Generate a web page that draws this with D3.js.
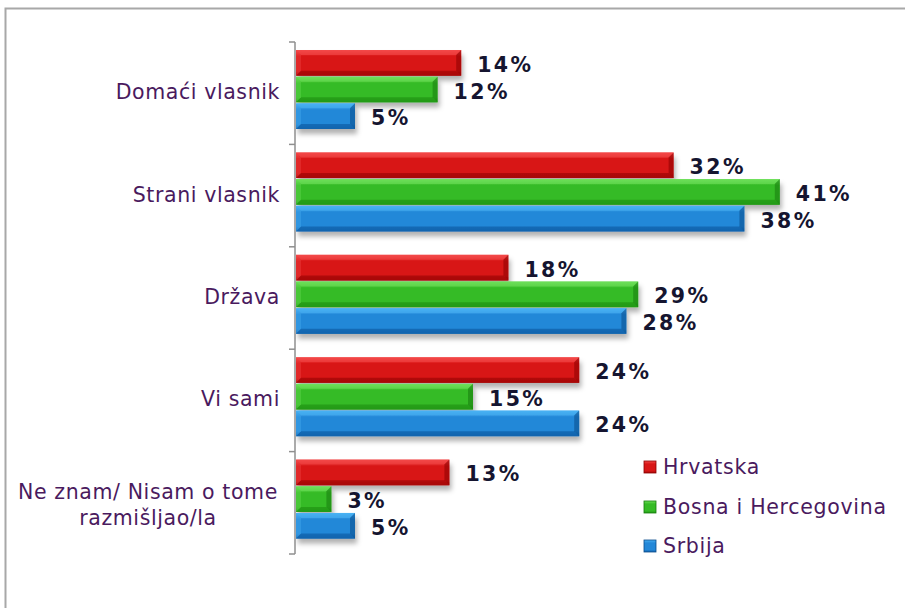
<!DOCTYPE html>
<html><head><meta charset="utf-8">
<script src="https://cdn.jsdelivr.net/npm/d3@7"></script>
<style>
html,body{margin:0;padding:0;background:#fff;}
svg{display:block;}
</style></head>
<body>
<svg id="chart" width="905" height="608"></svg>
<script>
const categories = [["Domaći vlasnik"], ["Strani vlasnik"], ["Država"], ["Vi sami"], ["Ne znam/ Nisam o tome", "razmišljao/la"]];
const seriesNames = ["Hrvatska", "Bosna i Hercegovina", "Srbija"];
const hrvatska = [14, 32, 18, 24, 13];
const bih = [12, 41, 29, 15, 3];
const srbija = [5, 38, 28, 24, 5];
const seriesValues = [hrvatska, bih, srbija];
const seriesColors = [
  {top:"#f44a4a", mid:"#d81616", bot:"#a80808", edge:"#8a0000"},
  {top:"#6ee05a", mid:"#36bb26", bot:"#239a16", edge:"#167a0c"},
  {top:"#4ab2f4", mid:"#2488d8", bot:"#1264ae", edge:"#0a4c8a"}
];

const svg = d3.select("#chart");
const defs = svg.append("defs");
const filt = defs.append("filter").attr("id","shadow").attr("x","-10%").attr("y","-30%").attr("width","130%").attr("height","180%");
filt.append("feDropShadow").attr("dx",2).attr("dy",5).attr("stdDeviation",2.5).attr("flood-color","#000").attr("flood-opacity",0.3);

seriesColors.forEach((c,i)=>{
  const g = defs.append("linearGradient").attr("id","grad"+i).attr("x1",0).attr("y1",0).attr("x2",0).attr("y2",1);
  g.append("stop").attr("offset","0%").attr("stop-color",c.top);
  g.append("stop").attr("offset","25%").attr("stop-color",c.mid);
  g.append("stop").attr("offset","80%").attr("stop-color",c.mid);
  g.append("stop").attr("offset","100%").attr("stop-color",c.bot);
});

// frame
svg.append("rect").attr("x",5.5).attr("y",8.5).attr("width",940).attr("height",640)
  .attr("fill","none").attr("stroke","#a8a8a8").attr("stroke-width",2);

const y = d3.scaleBand().domain(d3.range(categories.length)).range([42, 554]).paddingInner(0).paddingOuter(0);
const ySub = d3.scaleBand().domain(d3.range(seriesNames.length)).range([8, 88]).padding(0);
const x = d3.scaleLinear().domain([0, 45]).range([296, 827]);

// bars
const bevel = 5;
categories.forEach((cat, ci)=>{
  const g = svg.append("g").attr("transform", `translate(0,${y(ci)})`);
  seriesValues.forEach((vals, si)=>{
    const v = vals[ci];
    const x0 = x(0), x1 = x(v);
    const y0 = ySub(si), h = ySub.bandwidth() - 1;
    const c = seriesColors[si];
    const bg = g.append("g");
    bg.append("rect").attr("x",x0).attr("y",y0).attr("width",x1-x0).attr("height",h)
      .attr("fill",`url(#grad${si})`).attr("filter","url(#shadow)");
    bg.append("path").attr("d",`M${x0},${y0}L${x1},${y0}L${x1-bevel},${y0+bevel}L${x0+bevel},${y0+bevel}Z`)
      .attr("fill",c.top).attr("opacity",0.6);
    bg.append("path").attr("d",`M${x0},${y0+h}L${x1},${y0+h}L${x1-bevel},${y0+h-bevel}L${x0+bevel},${y0+h-bevel}Z`)
      .attr("fill",c.bot).attr("opacity",0.8);
    bg.append("path").attr("d",`M${x1},${y0}L${x1},${y0+h}L${x1-bevel},${y0+h-bevel}L${x1-bevel},${y0+bevel}Z`)
      .attr("fill",c.edge).attr("opacity",0.55);
    bg.append("path").attr("d",`M${x0},${y0}L${x0},${y0+h}L${x0+bevel},${y0+h-bevel}L${x0+bevel},${y0+bevel}Z`)
      .attr("fill",c.top).attr("opacity",0.35);
    g.append("text").attr("x", x1 + 16).attr("y", y0 + h/2 + 2)
      .attr("dominant-baseline","central")
      .attr("font-family","'DejaVu Sans', Verdana, sans-serif").attr("font-weight","bold")
      .attr("font-size",20.5).attr("letter-spacing",2.4).attr("fill","#151530")
      .text(v + "%");
  });
});

// axis
const ax = svg.append("g").attr("stroke","#8f8f8f").attr("stroke-width",1.5);
ax.append("line").attr("x1",295).attr("x2",295).attr("y1",y(0)).attr("y2",y(categories.length-1)+y.step());
d3.range(categories.length+1).forEach(i=>{
  const yy = i < categories.length ? y(i) : y(categories.length-1)+y.step();
  ax.append("line").attr("x1",289).attr("x2",295).attr("y1",yy).attr("y2",yy);
});

// category labels
categories.forEach((lines, ci)=>{
  const cy = y(ci) + y.step()/2;
  const multi = lines.length > 1;
  const t = svg.append("text")
    .attr("font-family","'DejaVu Sans', Verdana, sans-serif").attr("font-size",20.5)
    .attr("letter-spacing",0.6).attr("fill","#4a1a5e")
    .attr("text-anchor", multi ? "middle" : "end");
  lines.forEach((ln, li)=>{
    t.append("tspan").attr("x", multi ? 148 : 280)
      .attr("y", multi ? cy + (li - (lines.length-1)/2) * 26 + 2 : cy - 1)
      .attr("dominant-baseline","central").text(ln);
  });
});

// legend
const legY = [467, 507, 546];
seriesNames.forEach((name, si)=>{
  const c = seriesColors[si];
  svg.append("rect").attr("x",644).attr("y",legY[si]-6).attr("width",12).attr("height",12)
    .attr("fill",`url(#grad${si})`).attr("stroke",c.edge).attr("stroke-width",0.8);
  svg.append("text").attr("x",663).attr("y",legY[si]).attr("dominant-baseline","central")
    .attr("font-family","'DejaVu Sans', Verdana, sans-serif").attr("font-size",20.5)
    .attr("letter-spacing",0.7).attr("fill","#4a1a5e").text(name);
});
</script>
</body></html>
